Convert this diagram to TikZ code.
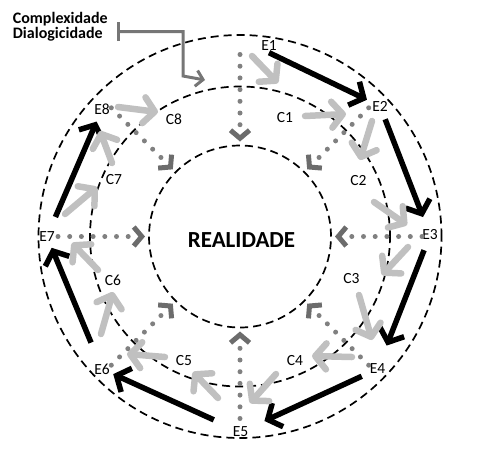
\documentclass[tikz,border=0pt]{standalone}
\usepackage{fontspec}
\setmainfont{Carlito}
\usetikzlibrary{arrows.meta,calc}
\definecolor{flowgray}{RGB}{192,192,192}
\definecolor{dotgray}{RGB}{128,128,128}
\definecolor{chevgray}{RGB}{108,108,108}
\definecolor{notegray}{RGB}{118,118,118}
\begin{document}
\begin{tikzpicture}[x=1pt,y=-1pt,
  lbl/.style={inner sep=1.5pt,font=\fontsize{15.5}{18}\selectfont},
  ring/.style={dash pattern=on 8pt off 5pt,line width=1.7pt},
  eflow/.style={line width=5.5pt,-{Straight Barb[length=11pt,width=26pt]}},
  cflow/.style={flowgray,line width=6.5pt,line cap=round,-{Straight Barb[round,length=11pt,width=26pt]}},
  inward/.style={dotgray,line width=5pt,line cap=round,dash pattern=on 0pt off 11.7pt,-{Straight Barb[length=8pt,width=19pt,color=chevgray]}},
  hook/.style={notegray,line width=3pt,{Bar[width=19pt]}-{Straight Barb[length=7pt,width=16pt]}}]
\useasboundingbox (0,0) rectangle (481,459);
\coordinate (o) at (240,236.5);
% three rings
\draw[ring] (o) circle[radius=201.5pt];
\draw[ring] (o) circle[radius=150pt];
\draw[ring] (o) circle[radius=91pt];
\node[font=\bfseries\fontsize{23}{27}\selectfont] (real) at (241.5,239.7) {REALIDADE};
% outer stations
\node[lbl] (E1) at (269,46) {E1};
\node[lbl] (E2) at (380,106) {E2};
\node[lbl] (E3) at (430,235) {E3};
\node[lbl] (E4) at (377.5,369) {E4};
\node[lbl] (E5) at (240.5,432) {E5};
\node[lbl] (E6) at (102,369) {E6};
\node[lbl] (E7) at (47,236.5) {E7};
\node[lbl] (E8) at (102,109) {E8};
% middle stations
\node[lbl] (C1) at (285,117.5) {C1};
\node[lbl] (C2) at (358.5,180.5) {C2};
\node[lbl] (C3) at (351.5,279) {C3};
\node[lbl] (C4) at (295,361) {C4};
\node[lbl] (C5) at (184,361) {C5};
\node[lbl] (C6) at (113,280) {C6};
\node[lbl] (C7) at (114,179.5) {C7};
\node[lbl] (C8) at (174,119) {C8};
% outer cycle
\draw[eflow,shorten >=4pt] (E1.south) -- (E2);
\draw[eflow,shorten <=7pt,shorten >=12pt] (E2) -- (E3);
\draw[eflow,shorten <=9pt,shorten >=18pt] (E3) -- (E4);
\draw[eflow,shorten <=7pt,shorten >=16pt] (E4) -- (E5);
\draw[eflow,shorten <=19pt,shorten >=2pt] (E5) -- (E6);
\draw[eflow,shorten <=21pt,shorten >=5pt] (E6) -- (E7);
\draw[eflow,shorten <=14pt,shorten >=6pt] (E7) -- (E8);
% zigzag between the rings
\foreach \n/\xa/\ya/\xb/\yb in {1/252/56/278/83, 2/305/116/346/114, 3/372/121/360/160,
  4/374/202/407/225, 5/408/247/382/275, 6/359/295/372/340, 7/352/357/312/356,
  8/276/374/250/403, 9/218/398/193/372, 10/165/357/127/354, 11/101/334/113/292,
  12/98/270/72/243, 13/65/214/97/187, 14/112/163/100/131, 15/118/107/158/112}
  {\coordinate (g\n a) at (\xa,\ya);
   \coordinate (g\n b) at (\xb,\yb);
   \draw[cflow] (g\n a) -- (g\n b);}
% towards the centre
\foreach \a [count=\i] in {-90,-45,0,45,90,135,180,225}
  {\coordinate (s\i) at ($(o)+(\a:182)$);
   \coordinate (t\i) at ($(o)+(\a:95)$);
   \draw[inward] (s\i) -- (t\i);}
% note
\node[font=\bfseries\fontsize{16}{12.7}\selectfont,align=left,anchor=north west,inner sep=0pt] (cd) at (12.7,12.5) {Complexidade\\Dialogicidade};
\coordinate (bend) at (183,76);
\coordinate (cdtip) at (205,80);
\draw[hook] ([shift={(9,4.5)}]cd.east) -| (bend) -- (cdtip);
\end{tikzpicture}
\end{document}
